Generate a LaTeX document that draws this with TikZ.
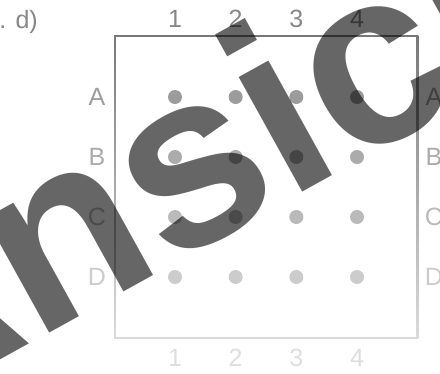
\documentclass[tikz,border=0pt]{standalone}
\usepackage{fontspec}
\setmainfont{Liberation Sans}
\usetikzlibrary{positioning}
\definecolor{rowtop}{gray}{0.53}
\definecolor{rowA}{gray}{0.61}
\definecolor{rowB}{gray}{0.67}
\definecolor{rowC}{gray}{0.73}
\definecolor{rowD}{gray}{0.80}
\definecolor{rowbot}{gray}{0.87}
\definecolor{frametop}{gray}{0.47}
\definecolor{framebot}{gray}{0.86}

\begin{document}
\begin{tikzpicture}[x=1pt, y=-1pt,
    dot/.style={circle, inner sep=0pt, minimum size=14pt},
    lbl/.style={font=\fontsize{25}{30}\selectfont, inner sep=0pt},
    stamp/.style={font=\fontsize{248}{248}\selectfont\bfseries, text=black,
                  text opacity=0.6, inner sep=0pt, anchor=base west, rotate=29}]
\useasboundingbox (0,0) rectangle (440,373);
\clip (0,0) rectangle (440,373);
% caption fragment, top left
\node[lbl, text=rowtop, anchor=base east] (cap) at (38,28) {. d)};
% frame, fading towards the bottom
\shade[top color=frametop, bottom color=framebot] (114.2,35.2) rectangle (115.8,338.8);
\shade[top color=frametop, bottom color=framebot] (416.7,35.2) rectangle (418.3,338.8);
\fill[frametop] (114.2,35.2) rectangle (418.3,36.8);
\fill[framebot] (114.2,337.2) rectangle (418.3,338.8);
% column numbers, top and bottom
\foreach \i in {1,...,4} {
  \node[lbl, text=rowtop] (top\i) at ({175+60.67*(\i-1)},19) {\i};
  \node[lbl, text=rowbot] (bot\i) at ({175+60.67*(\i-1)},358) {\i};
}
% rows: letters on both sides and the dots
\foreach \r/\y/\c in {A/97/rowA, B/157/rowB, C/217/rowC, D/277/rowD} {
  \node[lbl, text=\c] (left\r) at (97,\y) {\r};
  \node[lbl, text=\c] (right\r) at (434,\y) {\r};
  \foreach \i in {1,...,4}
    \node[dot, fill=\c] (\r\i) at ({175+60.67*(\i-1)},\y) {};
}
% watermark across the whole picture
\node[stamp] (mark) at (-122,428) {Ansicht};
\end{tikzpicture}
\end{document}
